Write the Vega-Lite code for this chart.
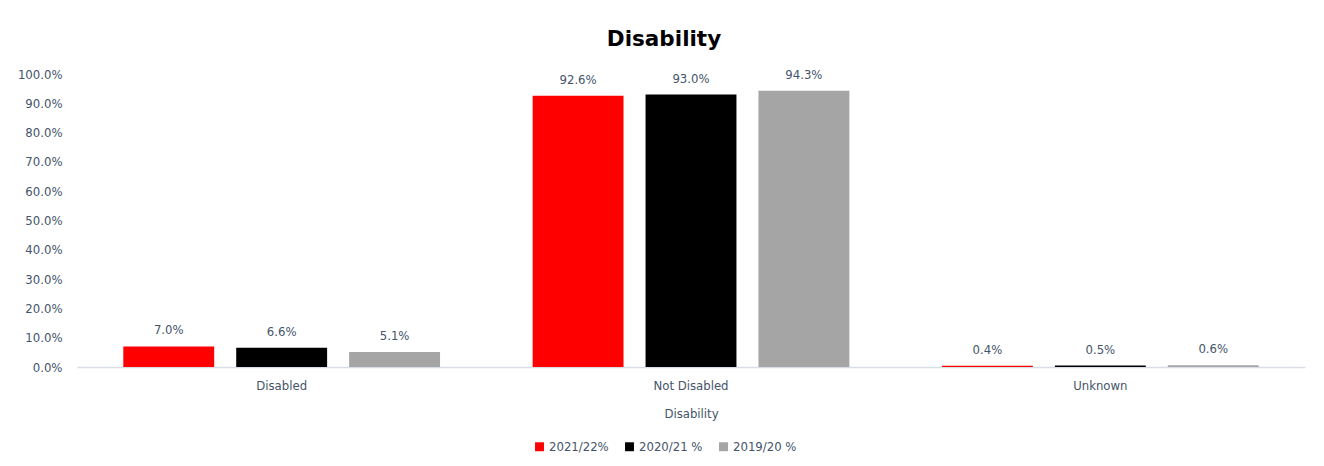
{
  "$schema": "https://vega.github.io/schema/vega-lite/v6.json",
  "width": 1228,
  "height": 293,
  "autosize": {"type": "none"},
  "padding": {"left": 77, "top": 74, "right": 19, "bottom": 99},
  "background": "white",
  "title": {"text": "Disability", "font": "DejaVu Sans", "fontSize": 21.5, "fontWeight": "bold", "color": "#000000", "anchor": "middle", "offset": 18, "dx": -27},
  "data": {"values": [
    {"category": "Disabled", "year": "2021/22%", "value": 0.070},
    {"category": "Disabled", "year": "2020/21 %", "value": 0.066},
    {"category": "Disabled", "year": "2019/20 %", "value": 0.051},
    {"category": "Not Disabled", "year": "2021/22%", "value": 0.926},
    {"category": "Not Disabled", "year": "2020/21 %", "value": 0.930},
    {"category": "Not Disabled", "year": "2019/20 %", "value": 0.943},
    {"category": "Unknown", "year": "2021/22%", "value": 0.004},
    {"category": "Unknown", "year": "2020/21 %", "value": 0.005},
    {"category": "Unknown", "year": "2019/20 %", "value": 0.006}
  ]},
  "encoding": {
    "x": {"field": "category", "type": "nominal", "sort": ["Disabled", "Not Disabled", "Unknown"],
      "scale": {"paddingInner": 0, "paddingOuter": 0},
      "axis": {"labelAngle": 0, "title": "Disability", "ticks": false, "domainColor": "#D9DDE5", "domainWidth": 1.5, "labelPadding": 12, "titlePadding": 15, "labelFont": "DejaVu Sans Condensed", "labelFontSize": 13, "labelColor": "#44546A", "titleFont": "DejaVu Sans Condensed", "titleFontSize": 13, "titleFontWeight": "normal", "titleColor": "#44546A"}},
    "xOffset": {"field": "year", "type": "nominal", "sort": ["2021/22%", "2020/21 %", "2019/20 %"],
      "scale": {"paddingInner": 0.195, "paddingOuter": 0.41}},
    "y": {"field": "value", "type": "quantitative", "scale": {"domain": [0, 1]},
      "axis": {"format": ".1%", "values": [0, 0.1, 0.2, 0.3, 0.4, 0.5, 0.6, 0.7, 0.8, 0.9, 1.0], "grid": false, "domain": false, "ticks": false, "labelPadding": 15, "title": null, "labelFont": "DejaVu Sans Condensed", "labelFontSize": 13, "labelColor": "#44546A"}}
  },
  "layer": [
    {
      "mark": {"type": "bar"},
      "encoding": {
        "color": {"field": "year", "type": "nominal", "sort": ["2021/22%", "2020/21 %", "2019/20 %"],
          "scale": {"domain": ["2021/22%", "2020/21 %", "2019/20 %"], "range": ["#FF0000", "#000000", "#A5A5A5"]},
          "legend": {"orient": "none", "legendX": 456, "legendY": 366, "title": null, "direction": "horizontal", "symbolType": "square", "symbolSize": 80, "symbolStrokeWidth": 0, "labelFont": "DejaVu Sans Condensed", "labelFontSize": 13, "labelColor": "#44546A", "columnPadding": 14, "labelOffset": 3}}
      }
    },
    {
      "mark": {"type": "text", "baseline": "bottom", "dy": -9, "font": "DejaVu Sans Condensed", "fontSize": 13, "color": "#44546A"},
      "encoding": {"text": {"field": "value", "type": "quantitative", "format": ".1%"}}
    }
  ],
  "config": {"view": {"stroke": null}}
}
